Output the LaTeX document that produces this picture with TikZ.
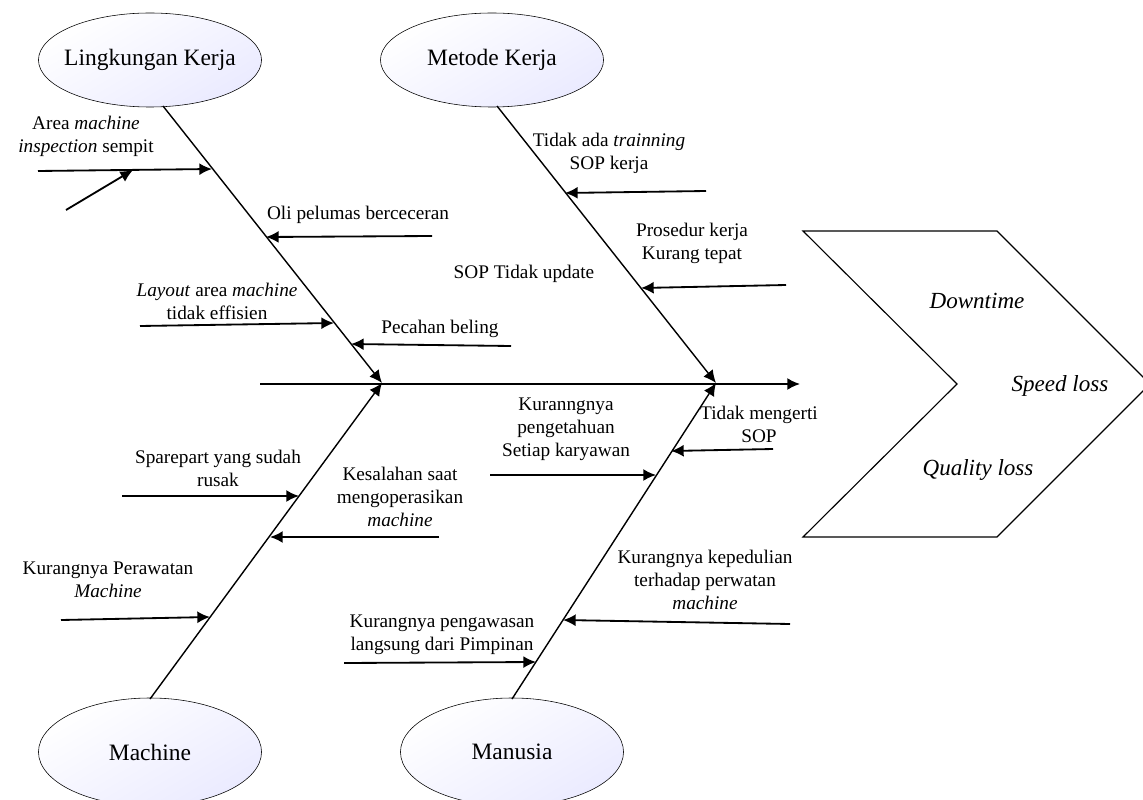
\documentclass[tikz,border=0pt]{standalone}
\usepackage{fontspec}
\setmainfont{Liberation Serif}
\usetikzlibrary{arrows.meta,shapes.geometric}
\begin{document}
\begin{tikzpicture}[x=0.025cm, y=-0.025cm, font=\fontsize{13.7}{16.3}\selectfont,
          >={Latex[length=9pt,width=8.5pt]},
          cat/.style={draw, ellipse, inner sep=0pt, minimum width=5.575cm, minimum height=2.35cm, top color=white, bottom color=blue!8, shading angle=30, font=\fontsize{16.7}{20}\selectfont},
          bone/.style={line width=1pt, ->},
          cause/.style={line width=1.3pt, ->},
          lbl/.style={align=center, inner sep=0pt},
          eff/.style={font=\fontsize{16.4}{20}\selectfont\itshape}]
        \useasboundingbox (0,0) rectangle (1143,800);
        % kategori
        \node[cat] (lk) at (150,60) {\makebox[0pt]{Lingkungan Kerja}};
        \node[cat] (mk) at (492,60) {\makebox[0pt]{Metode Kerja}};
        \node[cat, minimum height=2.7cm] (ma) at (150,752) {\makebox[0pt]{Machine}};
        \node[cat, minimum height=2.7cm] (mn) at (512,752) {\makebox[0pt]{Manusia}};
        % tulang utama
        \coordinate (tail) at (260,384);
        \coordinate (head) at (800,384);
        \coordinate (lkroot) at (163,106);
        \coordinate (mkroot) at (497,106);
        \coordinate (maroot) at (150,699);
        \coordinate (mnroot) at (512,699);
        \coordinate (lhit) at (382,383);
        \coordinate (rhit) at (716,383);
        \draw[cause] (tail) -- (head);
        \draw[bone] (lkroot) -- (lhit);
        \draw[bone] (maroot) -- (lhit);
        \draw[bone] (mkroot) -- (rhit);
        \draw[bone] (mnroot) -- (rhit);
        % akibat
        \draw[line width=0.8pt] (803,231) -- (997,231) -- (1150,384) -- (997,537) -- (803,537) -- (957,384) -- cycle;
        \node[eff] (down) at (977,301) {Downtime};
        \node[eff] (speed) at (1060,386) {Speed loss};
        \node[eff] (qual) at (978,470) {Quality loss};
        % lingkungan kerja
        \node[lbl] (area) at (86,136) {Area \textit{machine}\\\textit{inspection} sempit};
        \coordinate (area1) at (38,171);
        \coordinate (area2) at (212,169);
        \coordinate (sub1) at (66,210);
        \coordinate (sub2) at (133,170);
        \draw[cause] (area1) -- (area2);
        \draw[cause] (sub1) -- (sub2);
        \node[lbl] (oli) at (358,215) {Oli pelumas berceceran};
        \coordinate (oli1) at (432,236);
        \coordinate (oli2) at (266,237);
        \draw[cause] (oli1) -- (oli2);
        \node[lbl] (lay) at (217,301) {\textit{Layout} area \textit{machine}\\tidak effisien};
        \coordinate (lay1) at (140,326);
        \coordinate (lay2) at (334,323);
        \draw[cause] (lay1) -- (lay2);
        \node[lbl] (pec) at (440,329) {Pecahan beling};
        \coordinate (pec1) at (511,346);
        \coordinate (pec2) at (351,344);
        \draw[cause] (pec1) -- (pec2);
        % metode kerja
        \node[lbl] (trn) at (609,153) {Tidak ada \textit{trainning}\\SOP kerja};
        \coordinate (trn1) at (706,191);
        \coordinate (trn2) at (565,193);
        \draw[cause] (trn1) -- (trn2);
        \node[lbl] (pro) at (692,243) {Prosedur kerja\\Kurang tepat};
        \coordinate (pro1) at (786,285);
        \coordinate (pro2) at (641,288);
        \draw[cause] (pro1) -- (pro2);
        \node[lbl] (upd) at (524,274) {SOP Tidak update};
        % machine
        \node[lbl] (spa) at (218,468) {Sparepart yang sudah\\rusak};
        \coordinate (spa1) at (122,496);
        \coordinate (spa2) at (299,496);
        \draw[cause] (spa1) -- (spa2);
        \node[lbl] (kes) at (400,497) {Kesalahan saat\\mengoperasikan\\\textit{machine}};
        \coordinate (kes1) at (439,537);
        \coordinate (kes2) at (270,537);
        \draw[cause] (kes1) -- (kes2);
        \node[lbl] (rwt) at (108,580) {Kurangnya Perawatan\\\textit{Machine}};
        \coordinate (rwt1) at (61,620);
        \coordinate (rwt2) at (210,617);
        \draw[cause] (rwt1) -- (rwt2);
        % manusia
        \node[lbl] (pgt) at (566,429) {Kuranngnya\\pengetahuan\\Setiap karyawan};
        \coordinate (pgt1) at (490,475);
        \coordinate (pgt2) at (656,475);
        \draw[cause] (pgt1) -- (pgt2);
        \node[lbl] (mgr) at (759,424) {Tidak mengerti\\SOP};
        \coordinate (mgr1) at (773,449);
        \coordinate (mgr2) at (671,451);
        \draw[cause] (mgr1) -- (mgr2);
        \node[lbl] (pdl) at (705,580) {Kurangnya kepedulian\\terhadap perwatan\\\textit{machine}};
        \coordinate (pdl1) at (790,624);
        \coordinate (pdl2) at (563,620);
        \draw[cause] (pdl1) -- (pdl2);
        \node[lbl] (pgw) at (442,635) {Kurangnya pengawasan\\langsung dari Pimpinan};
        \coordinate (pgw1) at (344,663);
        \coordinate (pgw2) at (536,662);
        \draw[cause] (pgw1) -- (pgw2);
      \end{tikzpicture}
\end{document}
